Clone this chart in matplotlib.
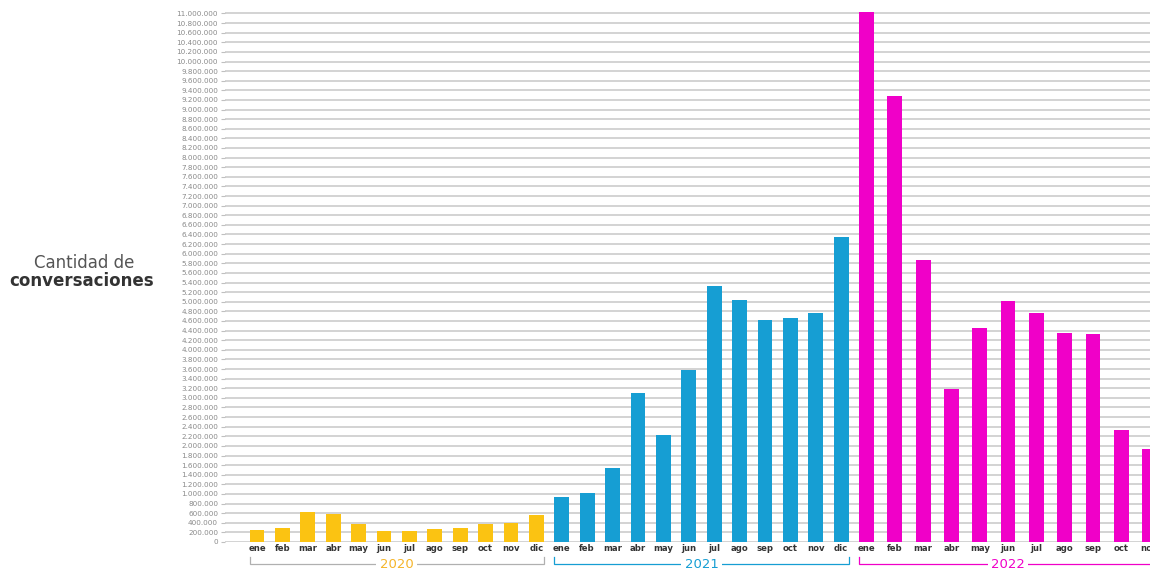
import numpy as np
import matplotlib
matplotlib.use("Agg")
import matplotlib.pyplot as plt
import matplotlib.transforms as mtransforms

# months per year and the conversation counts
months_2020 = ['ene', 'feb', 'mar', 'abr', 'may', 'jun', 'jul', 'ago', 'sep', 'oct', 'nov', 'dic']
months_2021 = ['ene', 'feb', 'mar', 'abr', 'may', 'jun', 'jul', 'ago', 'sep', 'oct', 'nov', 'dic']
months_2022 = ['ene', 'feb', 'mar', 'abr', 'may', 'jun', 'jul', 'ago', 'sep', 'oct', 'nov']

values_2020 = [240000, 300000, 630000, 580000, 375000, 235000, 235000, 270000, 300000, 380000, 400000, 560000]
values_2021 = [930000, 1030000, 1535000, 3100000, 2230000, 3580000, 5330000, 5030000, 4625000, 4660000, 4760000, 6350000]
values_2022 = [11040000, 9280000, 5875000, 3190000, 4450000, 5020000, 4760000, 4360000, 4330000, 2330000, 1930000]

years = ['2020', '2021', '2022']
year_colours = ['#FBC312', '#169ED3', '#F000C8']
bracket_colours = ['#b0b0b0', '#169ED3', '#F000C8']
text_colours = ['#F5B52A', '#169ED3', '#F000C8']

yticks = np.arange(0, 11000001, 200000)

fig = plt.figure(figsize=(11.5, 5.7), dpi=100)
ax = fig.add_axes([225 / 1150., 28 / 570., 925 / 1150., 542 / 570.])

# slot positions: 2022 is drawn a bit wider in the original
groups = [(months_2020, values_2020, 0.0, 1.0),
          (months_2021, values_2021, 12.0, 1.0),
          (months_2022, values_2022, 24.0, 1.114)]
width = 0.58

blend = mtransforms.blended_transform_factory(ax.transData, fig.transFigure)

for i, (months, vals, start, step) in enumerate(groups):
    x = start + step * np.arange(len(months))
    ax.bar(x, vals, width=width, color=year_colours[i], zorder=3)
    for xi, m in zip(x, months):
        ax.text(xi, 0.037, m, transform=blend, ha='center', va='center',
                fontsize=6.1, fontweight='bold', color='#333333', clip_on=False)
    # year bracket
    x0 = x[0] - width / 2
    x1 = x[-1] + width / 2
    ax.plot([x0, x0, x1, x1], [0.022, 0.0105, 0.0105, 0.022], transform=blend,
            color=bracket_colours[i], lw=0.9, clip_on=False, solid_joinstyle='miter')
    ax.text((x0 + x1) / 2, 0.0105, years[i], transform=blend, ha='center', va='center',
            fontsize=9.5, color=text_colours[i], clip_on=False,
            bbox=dict(facecolor='white', edgecolor='none', pad=2.5))

ax.set_xlim(-1.26, 35.16)
ax.set_ylim(0, 11280000)
ax.set_yticks(yticks)
ax.set_yticklabels(['{:,}'.format(v).replace(',', '.') for v in yticks])
ax.yaxis.grid(True, color='#d0d0d0', lw=1.3, zorder=0)
ax.set_axisbelow(True)
ax.tick_params(axis='y', length=3, width=0.8, color='#c0c0c0', pad=2,
               labelsize=5.2, labelcolor='#8a8a8a')
ax.tick_params(axis='x', length=0, labelbottom=False)
for s in ax.spines.values():
    s.set_visible(False)

fig.text(84 / 1150., 1 - 263 / 570., 'Cantidad de', ha='center', va='center',
         fontsize=12, color='#555555')
fig.text(82 / 1150., 1 - 281 / 570., 'conversaciones', ha='center', va='center',
         fontsize=12, fontweight='bold', color='#333333')

fig.savefig('out.png', dpi=100)
